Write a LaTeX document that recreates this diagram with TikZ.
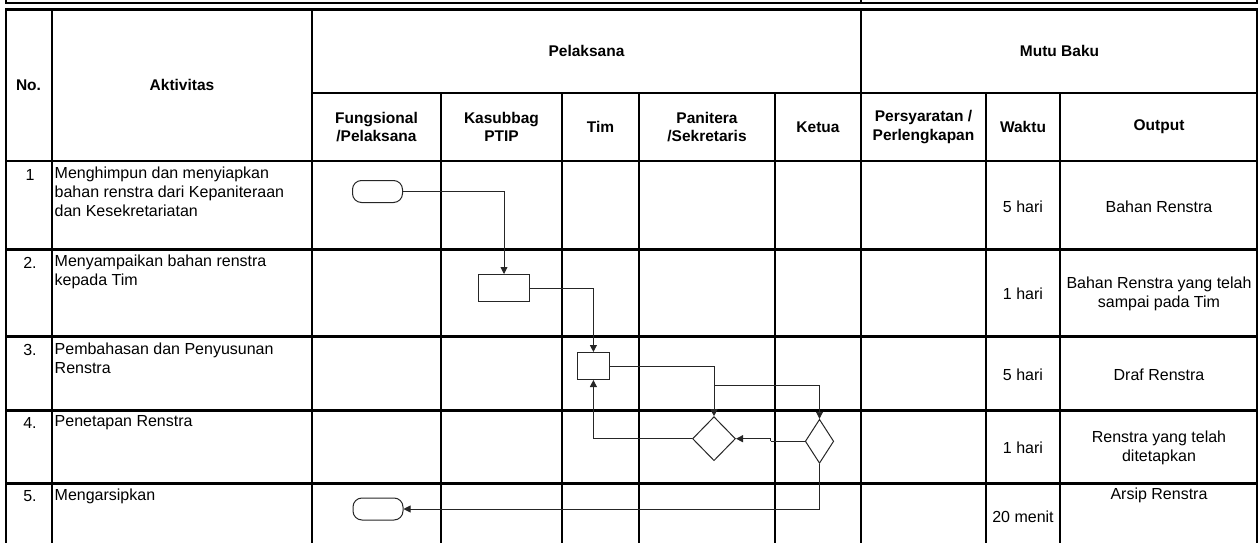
\documentclass[tikz,border=0pt]{standalone}
\usepackage{fontspec}
\setmainfont{Liberation Sans}
\usetikzlibrary{shapes.geometric,arrows.meta}
\begin{document}
\begin{tikzpicture}[x=1pt,y=-1pt,
  grid/.style={line width=2.4pt, line cap=rect},
  hd/.style={font=\fontsize{15.5}{18.5}\selectfont\bfseries, align=center, inner sep=0pt},
  txt/.style={font=\fontsize{16}{18.8}\selectfont, inner sep=0pt},
  txtc/.style={txt, align=center},
  txtl/.style={txt, align=left, anchor=north west},
  term/.style={draw=black!85, line width=1pt, rectangle, rounded corners=9pt, minimum width=50pt, minimum height=22pt, inner sep=0pt},
  proc/.style={draw=black!85, line width=1pt, rectangle, inner sep=0pt},
  dec/.style={draw=black!85, line width=1pt, diamond, inner sep=0pt},
  conn/.style={draw=black!85, line width=0.9pt, -{Triangle[length=7pt,width=7pt]}},
  link/.style={draw=black!85, line width=0.9pt}
]
\useasboundingbox (0,0) rectangle (1259,543);

% ---------- table grid ----------
\draw[grid] (6,3) -- (1257,3);
\draw[grid] (6,9.5) -- (1257,9.5);
\foreach \x in {6,861,1257} \draw[grid] (\x,0) -- (\x,3);
\foreach \x in {6,52,312,861,1257} \draw[grid] (\x,9.5) -- (\x,545);
\foreach \x in {441,562,639,775,986,1060} \draw[grid] (\x,93) -- (\x,545);
\draw[grid] (312,93) -- (1257,93);
\foreach \y in {161,249.5,336.5,410.5,483.5} \draw[grid] (6,\y) -- (1257,\y);

% ---------- headers ----------
\node[hd] (hno) at (28.5,85) {No.};
\node[hd] (hakt) at (182,85) {Aktivitas};
\node[hd] (hpel) at (586.5,51) {Pelaksana};
\node[hd] (hmutu) at (1059.5,51) {Mutu Baku};
\node[hd] (hfung) at (376.5,127) {Fungsional\\/Pelaksana};
\node[hd] (hkas) at (501.5,127) {Kasubbag\\PTIP};
\node[hd] (htim) at (600.5,127) {Tim};
\node[hd] (hpan) at (707,127) {Panitera\\/Sekretaris};
\node[hd] (hket) at (818,127) {Ketua};
\node[hd] (hpers) at (923.5,127) {Persyaratan /\\Perlengkapan};
\node[hd] (hwak) at (1023,127) {Waktu};
\node[hd] (hout) at (1159,127) {Output};

% ---------- numbers ----------
\node[txt, anchor=base] (n1) at (30,180) {1};
\node[txt, anchor=base] (n2) at (30,268) {2.};
\node[txt, anchor=base] (n3) at (30,355.5) {3.};
\node[txt, anchor=base] (n4) at (30,428) {4.};
\node[txt, anchor=base] (n5) at (30,501.5) {5.};

% ---------- activities ----------
\node[txtl] (a1) at (54.5,167) {Menghimpun dan menyiapkan\\bahan renstra dari Kepaniteraan\\dan Kesekretariatan};
\node[txtl] (a2) at (54.5,255) {Menyampaikan bahan renstra\\kepada Tim};
\node[txtl] (a3) at (54.5,342.5) {Pembahasan dan Penyusunan\\Renstra};
\node[txtl] (a4) at (54.5,415) {Penetapan Renstra};
\node[txtl] (a5) at (54.5,488.5) {Mengarsipkan};

% ---------- waktu ----------
\node[txtc] (w1) at (1023,207) {5 hari};
\node[txtc] (w2) at (1023,294) {1 hari};
\node[txtc] (w3) at (1023,375) {5 hari};
\node[txtc] (w4) at (1023,448) {1 hari};
\node[txtc] (w5) at (1023,516.5) {20 menit};

% ---------- output ----------
\node[txtc] (o1) at (1159,207) {Bahan Renstra};
\node[txtc] (o2) at (1159,294) {Bahan Renstra yang telah\\sampai pada Tim};
\node[txtc] (o3) at (1159,375) {Draf Renstra};
\node[txtc] (o4) at (1159,448) {Renstra yang telah\\ditetapkan};
\node[txtc] (o5) at (1159,495) {Arsip Renstra};

% ---------- flow shapes ----------
\node[term] (T1) at (377.5,191.5) {};
\node[proc, minimum width=51pt, minimum height=27pt] (R2) at (504,288) {};
\node[proc, minimum width=32pt, minimum height=27pt] (R3) at (593.4,366) {};
\node[dec, minimum width=43pt, minimum height=44pt] (D1) at (714,438.7) {};
\node[dec, minimum width=28.5pt, minimum height=44pt] (D2) at (819.5,441.3) {};
\node[term] (T2) at (378,509) {};

\coordinate (br) at (714,385.3);
\coordinate (jog) at (770.6,441.3);

% ---------- connectors ----------
\draw[conn] (T1.east) -| (R2.north);
\draw[conn] (R2.east) -| (R3.north);
\draw[conn] (R3.east) -| (D1.north);
\draw[conn] (br) -| (D2.north);
\draw[link] (D2.west) -- (jog);
\draw[conn] (jog) |- (D1.east);
\draw[conn] (D1.west) -| (R3.south);
\draw[conn] (D2.south) |- (T2.east);
\end{tikzpicture}
\end{document}
